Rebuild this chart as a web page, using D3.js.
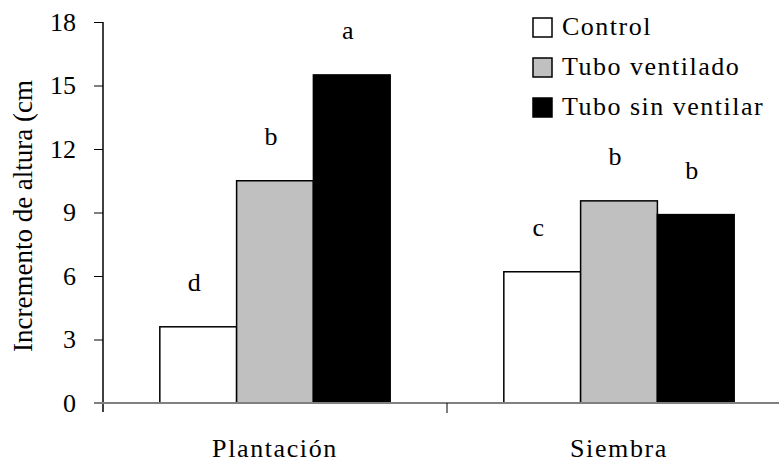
<!DOCTYPE html>
<html>
<head>
<meta charset="utf-8">
<script src="https://cdn.jsdelivr.net/npm/d3@7"></script>
<style>
  body { margin: 0; background: #fff; }
</style>
</head>
<body>
<div id="chart"></div>
<script>
// data
var categories = ["Plantación", "Siembra"];
var series = ["Control", "Tubo ventilado", "Tubo sin ventilar"];
var control = [3.6, 6.2];
var tuboVentilado = [10.5, 9.55];
var tuboSinVentilar = [15.5, 8.9];
var letters = [["d", "b", "a"], ["c", "b", "b"]];
var yTicks = [0, 3, 6, 9, 12, 15, 18];

var colors = ["#ffffff", "#c0c0c0", "#000000"];
var serif = "'Liberation Serif', 'Times New Roman', serif";

var svgWidth = 779;
var svgHeight = 467;

var margin = { top: 22, right: 0, bottom: 64, left: 103 };
var chartHeight = svgHeight - margin.top - margin.bottom;
var chartWidth = 688; // plot runs past the right edge of the picture

var svg = d3.select("#chart")
  .append("svg")
  .attr("width", svgWidth)
  .attr("height", svgHeight)
  .attr("font-family", serif);

var chartGroup = svg.append("g")
  .attr("transform", `translate(${margin.left}, ${margin.top})`);

// build rows
var rows = categories.map(function(c, i) {
  return {
    cat: c,
    vals: [control[i], tuboVentilado[i], tuboSinVentilar[i]],
    letters: letters[i]
  };
});

// scales
var yScale = d3.scaleLinear().domain([0, 18]).range([chartHeight, 0]);
var x0 = d3.scaleBand().domain(categories).range([0, chartWidth]);
var x1 = d3.scaleBand().domain(series).range([0, x0.bandwidth()]).paddingOuter(0.74);

// y axis
var yAxis = d3.axisLeft(yScale).tickValues(yTicks).tickSize(9).tickPadding(18);
var yG = chartGroup.append("g").call(yAxis);
yG.attr("font-family", serif).attr("font-size", 26);
yG.select(".domain").remove();
yG.selectAll(".tick line").attr("stroke", "#000").attr("stroke-width", 1);
yG.append("line")
  .attr("x1", 0).attr("x2", 0)
  .attr("y1", 0).attr("y2", chartHeight + 9)
  .attr("stroke", "#000").attr("stroke-width", 1.5);

// bars
var groups = chartGroup.selectAll(".grp")
  .data(rows)
  .enter()
  .append("g")
  .attr("transform", d => `translate(${x0(d.cat)}, 0)`);

groups.selectAll("rect")
  .data(d => d.vals.map((v, j) => ({ s: series[j], v: v, j: j })))
  .enter()
  .append("rect")
  .attr("x", d => x1(d.s))
  .attr("y", d => yScale(d.v))
  .attr("width", x1.bandwidth())
  .attr("height", d => chartHeight - yScale(d.v))
  .attr("fill", d => colors[d.j])
  .attr("stroke", "#000")
  .attr("stroke-width", 1.5);

// letters above bars
groups.selectAll(".letter")
  .data(d => d.vals.map((v, j) => ({ s: series[j], v: v, l: d.letters[j] })))
  .enter()
  .append("text")
  .attr("class", "letter")
  .attr("x", d => x1(d.s) + x1.bandwidth() / 2 - 4)
  .attr("y", d => yScale(d.v) - 36)
  .attr("text-anchor", "middle")
  .attr("font-family", serif)
  .attr("font-size", 26)
  .text(d => d.l);

// x axis (gray) with category separator tick
chartGroup.append("line")
  .attr("x1", -9).attr("x2", chartWidth)
  .attr("y1", chartHeight).attr("y2", chartHeight)
  .attr("stroke", "#808080").attr("stroke-width", 2);

chartGroup.append("line")
  .attr("x1", x0("Siembra")).attr("x2", x0("Siembra"))
  .attr("y1", chartHeight).attr("y2", chartHeight + 10)
  .attr("stroke", "#000").attr("stroke-width", 1);

// category labels
chartGroup.selectAll(".catlabel")
  .data(categories)
  .enter()
  .append("text")
  .attr("x", d => x0(d) + x0.bandwidth() / 2)
  .attr("y", chartHeight + 54)
  .attr("text-anchor", "middle")
  .attr("font-family", serif)
  .attr("font-size", 26)
  .attr("letter-spacing", 1.6)
  .text(d => d);

// y axis label
svg.append("text")
  .attr("transform", "rotate(-90)")
  .attr("x", -216)
  .attr("y", 32)
  .attr("text-anchor", "middle")
  .attr("font-family", serif)
  .attr("font-size", 27)
  .text("Incremento de altura (cm");

// legend
var legend = svg.append("g").attr("transform", "translate(533, 18)");
var li = legend.selectAll("g")
  .data(series)
  .enter()
  .append("g")
  .attr("transform", (d, i) => `translate(0, ${i * 40})`);

li.append("rect")
  .attr("width", 19).attr("height", 19)
  .attr("fill", (d, i) => colors[i])
  .attr("stroke", "#000").attr("stroke-width", 1.5);

li.append("text")
  .attr("x", 29)
  .attr("y", 17)
  .attr("font-family", serif)
  .attr("font-size", 26)
  .attr("letter-spacing", 1.5)
  .text(d => d);
</script>
</body>
</html>
